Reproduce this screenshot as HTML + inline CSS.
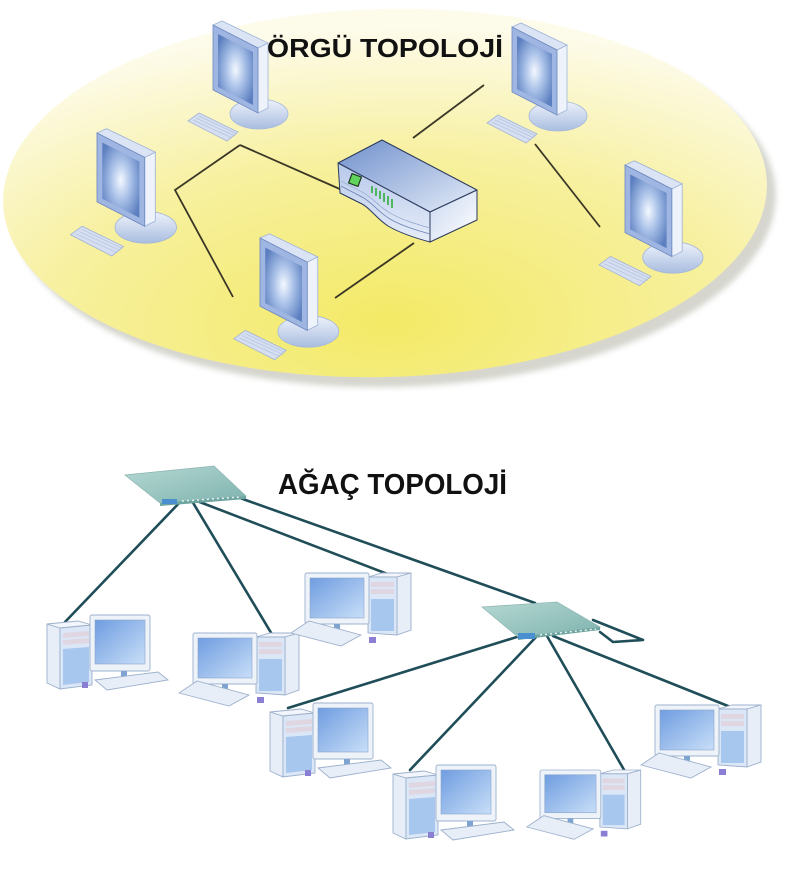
<!DOCTYPE html>
<html><head><meta charset="utf-8"><style>html,body{margin:0;padding:0;background:#fff;}svg{display:block}</style></head>
<body>
<svg width="800" height="886" viewBox="0 0 800 886" xmlns="http://www.w3.org/2000/svg">
<defs>
 <radialGradient id="gY" cx="0.5" cy="0.85" r="0.8">
   <stop offset="0" stop-color="#f3ea66"/>
   <stop offset="0.55" stop-color="#f7f09e"/>
   <stop offset="1" stop-color="#fdfbea"/>
 </radialGradient>
 <filter id="blur3" x="-10%" y="-10%" width="120%" height="120%"><feGaussianBlur stdDeviation="3"/></filter>
 <radialGradient id="gScr" cx="0.5" cy="0.5" r="0.6">
   <stop offset="0" stop-color="#f4f8ff"/>
   <stop offset="0.45" stop-color="#a9c1e8"/>
   <stop offset="1" stop-color="#5c7fc0"/>
 </radialGradient>
 <linearGradient id="gBase" x1="0" y1="0" x2="0" y2="1">
   <stop offset="0" stop-color="#eef3fb"/>
   <stop offset="1" stop-color="#a9bde0"/>
 </linearGradient>
 <linearGradient id="gHubTop" x1="0" y1="0" x2="1" y2="1">
   <stop offset="0" stop-color="#6f8fcc"/>
   <stop offset="1" stop-color="#e4ecf8"/>
 </linearGradient>
 <linearGradient id="gHubFront" x1="0" y1="0" x2="0" y2="1">
   <stop offset="0" stop-color="#b7c8ea"/>
   <stop offset="1" stop-color="#e6edf9"/>
 </linearGradient>
 <linearGradient id="gHubRight" x1="0" y1="0" x2="1" y2="1">
   <stop offset="0" stop-color="#c9d7f0"/>
   <stop offset="1" stop-color="#ffffff"/>
 </linearGradient>
 <linearGradient id="gTS" x1="0" y1="0" x2="1" y2="1">
   <stop offset="0" stop-color="#6f9de0"/>
   <stop offset="1" stop-color="#c8def8"/>
 </linearGradient>
 <linearGradient id="gSw" x1="0" y1="0" x2="1" y2="1">
   <stop offset="0" stop-color="#b5d8d3"/>
   <stop offset="1" stop-color="#7fb3ae"/>
 </linearGradient>

 <g id="mon">
  <ellipse cx="46" cy="89" rx="29" ry="15" fill="url(#gBase)" stroke="#a5b8da" stroke-width="0.8"/>
  <polygon points="45,23 55,18 55,83 45,88" fill="#eef3fb" stroke="#9fb3d8" stroke-width="0.8"/>
  <polygon points="0,0 9,-4 55,18 45,23" fill="#dbe4f4" stroke="#9fb3d8" stroke-width="0.8"/>
  <polygon points="0,0 45,23 45,88 0,65" fill="#9fb6e2" stroke="#7089c0" stroke-width="0.8"/>
  <polygon points="5,9 40,27 40,80 5,62" fill="url(#gScr)"/>
  <polygon points="-25,96 -14,88 25,107 14,116" fill="#d6dff1" stroke="#a3b4d6" stroke-width="0.8"/>
  <path d="M-20,95 L19,113 M-17,93 L22,111 M-14,91 L24,109" stroke="#b3c2e0" stroke-width="0.7"/>
 </g>

 <g id="pcA">
  <polygon points="0,2 13,6 13,67 0,61" fill="#e8eef8" stroke="#9cb0cc" stroke-width="0.9"/>
  <polygon points="0,2 31,-1 45,3 13,6" fill="#f2f5fb" stroke="#9cb0cc" stroke-width="0.9"/>
  <polygon points="13,6 45,3 45,63 13,67" fill="#dbe7f6" stroke="#9cb0cc" stroke-width="0.9"/>
  <polygon points="16,11 42,9 42,14 16,16" fill="#e0d6e2"/>
  <polygon points="16,18 42,16 42,21 16,23" fill="#e0d6e2"/>
  <polygon points="16,27 42,25 42,60 16,63" fill="#a7c7ee"/>
  <rect x="43" y="-7" width="60" height="56" rx="2" fill="#eef3fa" stroke="#9cb0cc" stroke-width="0.9"/>
  <rect x="48" y="-2" width="50" height="44" fill="url(#gTS)" stroke="#8aa4c8" stroke-width="0.6"/>
  <rect x="74" y="49" width="6" height="8" fill="#7da4d0"/>
  <polygon points="48,58 111,50 121,58 60,68" fill="#e8eef8" stroke="#9cb0cc" stroke-width="0.9"/>
  <rect x="35" y="60" width="6" height="6" fill="#8a7fd2"/>
 </g>

 <g id="pcB">
  <polygon points="63,4 77,0 106,0 92,4" fill="#f2f5fb" stroke="#9cb0cc" stroke-width="0.9"/>
  <polygon points="92,4 106,0 106,57 92,62" fill="#e8eef8" stroke="#9cb0cc" stroke-width="0.9"/>
  <polygon points="63,4 92,4 92,62 63,60" fill="#dbe7f6" stroke="#9cb0cc" stroke-width="0.9"/>
  <rect x="66" y="9" width="23" height="5" fill="#e0d6e2"/>
  <rect x="66" y="16" width="23" height="5" fill="#e0d6e2"/>
  <rect x="66" y="26" width="23" height="32" fill="#a7c7ee"/>
  <rect x="0" y="0" width="64" height="51" rx="2" fill="#eef3fa" stroke="#9cb0cc" stroke-width="0.9"/>
  <rect x="5" y="5" width="54" height="40" fill="url(#gTS)" stroke="#8aa4c8" stroke-width="0.6"/>
  <rect x="29" y="51" width="6" height="8" fill="#7da4d0"/>
  <polygon points="-14,60 4,48 56,62 36,73" fill="#e8eef8" stroke="#9cb0cc" stroke-width="0.9"/>
  <rect x="64" y="64" width="7" height="6" fill="#8a7fd2"/>
 </g>
</defs>

<!-- Mesh ellipse -->
<ellipse cx="394" cy="203" rx="382" ry="184" fill="#d6d6cf" filter="url(#blur3)" transform="rotate(-1.5 394 203)"/>
<ellipse cx="385" cy="193" rx="382" ry="184" fill="url(#gY)" transform="rotate(-1.5 385 193)"/>

<!-- Mesh lines -->
<g stroke="#3a3726" stroke-width="1.8" fill="none">
 <path d="M240,145 L175,190 L233,297"/>
 <path d="M240,145 L342,190"/>
 <path d="M335,298 L414,243"/>
 <path d="M413,138 L484,85"/>
 <path d="M535,144 L600,227"/>
</g>

<!-- Hub -->
<g stroke="#2b3a5c" stroke-width="1" stroke-linejoin="round">
 <polygon points="338,163 382,140 477,190 430,212" fill="url(#gHubTop)"/>
 <path d="M338,163 L430,212 L430,242 C415,238 400,233 388,226 C376,218 370,208 362,204 L340,193 Z" fill="url(#gHubFront)"/>
 <polygon points="430,212 477,190 477,220 430,242" fill="url(#gHubRight)"/>
 <path d="M341,186 L362,197 C372,202 378,212 390,219 C402,226 416,230 430,234" fill="none" stroke="#6c83b5" stroke-width="0.8"/>
 <path d="M341,181 L362,192 C372,197 378,206 390,213 C402,220 416,224 430,228" fill="none" stroke="#8fa3cc" stroke-width="0.7"/>
 <rect x="350" y="175" width="10" height="10" fill="#62d45e" stroke="#1f3a20" stroke-width="1.2" transform="rotate(20 355 180)"/>
</g>
<g stroke="#2fae3c" stroke-width="1.6">
 <path d="M372,186 L372,193 M376,188 L376,196 M380,191 L380,199 M384,193 L384,202 M388,196 L388,205 M392,199 L392,208"/>
</g>

<!-- Mesh monitors -->
<use href="#mon" transform="translate(213,25)"/>
<use href="#mon" transform="translate(97,133) scale(1.06)"/>
<use href="#mon" transform="translate(260,238) scale(1.05)"/>
<use href="#mon" transform="translate(512,27)"/>
<use href="#mon" transform="translate(625,165) scale(1.04)"/>

<text x="267" y="57" font-family="Liberation Sans, Arial, sans-serif" font-weight="bold" font-size="26" fill="#111" textLength="236" lengthAdjust="spacingAndGlyphs">ÖRGÜ TOPOLOJİ</text>

<!-- Tree lines -->
<g stroke="#1f4d58" stroke-width="2.6" fill="none" stroke-linecap="round" stroke-linejoin="round">
 <path d="M182,500 L65,622"/>
 <path d="M192,501 L273,636"/>
 <path d="M197,501 L398,578"/>
 <path d="M240,498 L535,603"/>
 <path d="M593,620 L643,640 L613,642 L600,632"/>
 <path d="M520,636 L288,708"/>
 <path d="M537,636 L410,770"/>
 <path d="M547,636 L627,775"/>
 <path d="M553,636 L733,708"/>
</g>

<!-- Switches -->
<polygon points="125,475 214,466 246,496 160,503" fill="url(#gSw)" stroke="#8fb7b3" stroke-width="0.8"/>
<polygon points="160,503 246,496 246,499 160,506" fill="#6ea5a0"/>
<rect x="162" y="499" width="15" height="5" fill="#4a8fd0"/>
<path d="M182,501 L242,497" stroke="#e8f2f0" stroke-width="1.5" stroke-dasharray="2,3"/>

<polygon points="482,607 557,602 600,627 518,637" fill="url(#gSw)" stroke="#8fb7b3" stroke-width="0.8"/>
<polygon points="518,637 600,627 600,630 518,640" fill="#6ea5a0"/>
<rect x="518" y="633" width="17" height="6" fill="#4a8fd0"/>
<path d="M540,635 L596,629" stroke="#e8f2f0" stroke-width="1.5" stroke-dasharray="2,3"/>

<!-- Tree PCs -->
<use href="#pcA" transform="translate(47,622)"/>
<use href="#pcB" transform="translate(193,633)"/>
<use href="#pcB" transform="translate(305,573)"/>
<use href="#pcA" transform="translate(270,710)"/>
<use href="#pcA" transform="translate(393,772)"/>
<use href="#pcB" transform="translate(540,770) scale(0.95)"/>
<use href="#pcB" transform="translate(655,705)"/>

<text x="278" y="494" font-family="Liberation Sans, Arial, sans-serif" font-weight="bold" font-size="28.5" fill="#111" textLength="229" lengthAdjust="spacingAndGlyphs">AĞAÇ TOPOLOJİ</text>
</svg>
</body></html>
